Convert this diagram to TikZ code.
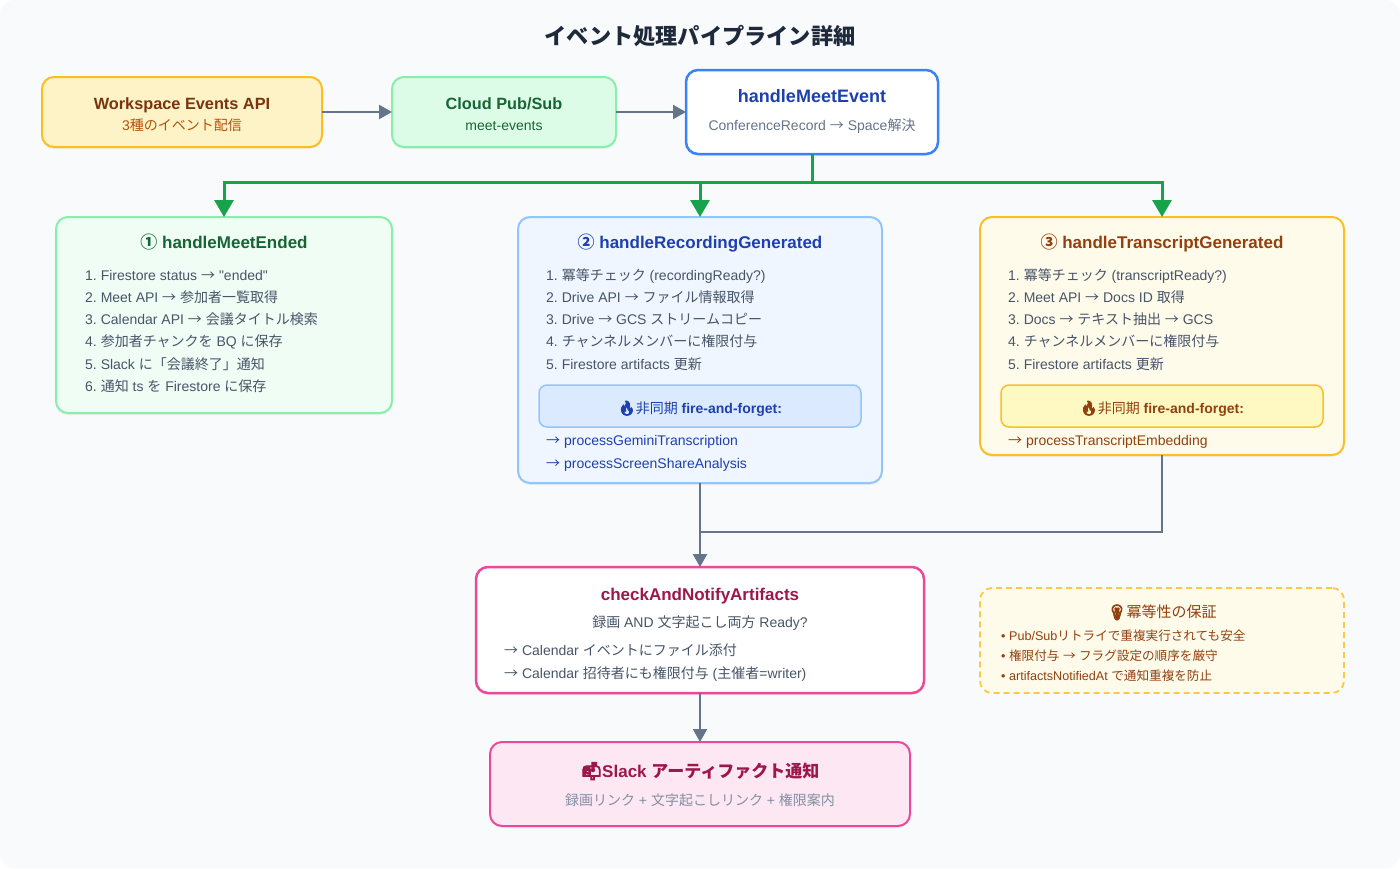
\documentclass[tikz,border=0pt]{standalone}
\usepackage{xcolor}
\usepackage{fontspec}
\usetikzlibrary{arrows.meta,shadows}

\setmainfont{Liberation Sans}[Ligatures=TeXOff]
\newfontfamily\jpfont{Noto Sans CJK JP}
\newfontfamily\emojifont{Noto Emoji}[FakeBold=7]
\frenchspacing

% Japanese runs switch to the CJK family by themselves
\newXeTeXintercharclass\jpclass
\newcount\jpchar
\newcommand{\markjp}[2]{%
	\jpchar=#1
	\loop
		\XeTeXcharclass\jpchar=\jpclass
		\ifnum\jpchar<#2 \advance\jpchar by 1
	\repeat}
\markjp{"2192}{"2192}
\markjp{"2460}{"2473}
\markjp{"3000}{"30FF}
\markjp{"4E00}{"9FFF}
\markjp{"FF00}{"FFEF}
\XeTeXinterchartoks 0 \jpclass = {\jpfont}
\XeTeXinterchartoks 4095 \jpclass = {\jpfont}
\XeTeXinterchartoks \jpclass 0 = {\rmfamily}
\XeTeXinterchartoks \jpclass 4095 = {\rmfamily}
\XeTeXinterchartokenstate=1

\definecolor{pagebg}{HTML}{F8FAFC}
\definecolor{arrowgray}{HTML}{64748B}
\definecolor{busgreen}{HTML}{16A34A}
\definecolor{bodytext}{HTML}{475569}
\definecolor{titletext}{HTML}{1E293B}
\definecolor{amberline}{HTML}{FBBF24}
\definecolor{greenline}{HTML}{86EFAC}
\definecolor{blueline}{HTML}{93C5FD}
\definecolor{strongblue}{HTML}{3B82F6}
\definecolor{pinkline}{HTML}{EC4899}
\definecolor{greentext}{HTML}{166534}
\definecolor{bluetext}{HTML}{1E40AF}
\definecolor{browntext}{HTML}{92400E}
\definecolor{darkbrown}{HTML}{78350F}
\definecolor{orangetext}{HTML}{B45309}
\definecolor{pinktext}{HTML}{9D174D}
\definecolor{amberfill}{HTML}{FEF3C7}
\definecolor{creamfill}{HTML}{FFFBEB}
\definecolor{lemonfill}{HTML}{FEF9C3}
\definecolor{greenfill}{HTML}{DCFCE7}
\definecolor{mintfill}{HTML}{F0FDF4}
\definecolor{bluefill}{HTML}{DBEAFE}
\definecolor{paleblue}{HTML}{EFF6FF}
\definecolor{pinkfill}{HTML}{FCE7F3}

\tikzset{
	card/.style={draw, rounded corners=12pt, line width=2pt, outer sep=0pt, inner sep=0pt,
		drop shadow={opacity=.10, shadow xshift=0pt, shadow yshift=-2pt}},
	subcard/.style={draw, rounded corners=8pt, line width=1.5pt, outer sep=0pt, inner sep=0pt,
		minimum width=322pt, minimum height=42pt},
	title16/.style={anchor=base, inner sep=0pt, font=\fontsize{16.3}{19}\bfseries\selectfont},
	title17/.style={anchor=base, inner sep=0pt, font=\fontsize{17}{20}\bfseries\selectfont},
	boldmid/.style={anchor=base, inner sep=0pt, font=\fontsize{14}{17}\bfseries\selectfont},
	line14/.style={anchor=base west, inner sep=0pt, text=bodytext, font=\fontsize{14}{17}\selectfont},
	mid14/.style={anchor=base, inner sep=0pt, text=bodytext, font=\fontsize{14}{17}\selectfont},
	line12/.style={anchor=base west, inner sep=0pt, text=browntext, font=\fontsize{12.6}{15}\selectfont},
	grayflow/.style={-{Triangle[length=13pt,width=14pt]}, arrowgray, line width=2.2pt},
	greenflow/.style={-{Triangle[length=17pt,width=19pt]}, busgreen, line width=3pt},
}

\begin{document}
\begin{tikzpicture}[x=1pt,y=-1pt]

	\useasboundingbox (0,0) rectangle (1400,868);
	\fill [pagebg, rounded corners=14pt] (0,0) rectangle (1400,868);

	\node (title) [anchor=base, inner sep=0pt, text=titletext, font=\fontsize{22.2}{26}\bfseries\selectfont] at (700,44) {イベント処理パイプライン詳細};

	% top row
	\node (api) [card, fill=amberfill, draw=amberline, minimum width=280pt, minimum height=70pt] at (182,112) {};
	\node (apiname) [title16, text=darkbrown] at (182,109.5) {Workspace Events API};
	\node (apisub) [mid14, text=orangetext] at (182,130) {3種のイベント配信};

	\node (pubsub) [card, fill=greenfill, draw=greenline, minimum width=224pt, minimum height=70pt] at (504,112) {};
	\node (pubsubname) [title16, text=greentext] at (504,109.5) {Cloud Pub/Sub};
	\node (pubsubsub) [mid14, text=greentext] at (504,130) {meet-events};

	\node (evt) [card, fill=white, draw=strongblue, line width=2.5pt, minimum width=252pt, minimum height=84pt] at (812,112) {};
	\node (evtname) [anchor=base, inner sep=0pt, font=\fontsize{18}{21}\bfseries\selectfont, text=bluetext] at (812,102) {handleMeetEvent};
	\node (evtsub) [mid14, text=arrowgray] at (812,130) {ConferenceRecord → Space解決};

	\draw [grayflow] (api) -- (pubsub);
	\draw [grayflow] (pubsub.east) -- (pubsub.east -| evt.west);

	% three handlers
	\node (ended) [card, fill=mintfill, draw=greenline, minimum width=336pt, minimum height=196pt] at (224,315) {};
	\node (endedname) [title17, text=greentext] at (224,248) {① handleMeetEnded};
	\foreach \t [count=\i] in {1. Firestore status → "ended", 2. Meet API → 参加者一覧取得, 3. Calendar API → 会議タイトル検索, 4. 参加者チャンクを BQ に保存, 5. Slack に「会議終了」通知, 6. 通知 ts を Firestore に保存} {
		\node (ended\i) [line14] at (85,280+22.3*\i-22.3) {\t};
	}

	\node (rec) [card, fill=paleblue, draw=blueline, minimum width=364pt, minimum height=266pt] at (700,350) {};
	\node (recname) [title17, text=bluetext] at (700,248) {② handleRecordingGenerated};
	\foreach \t [count=\i] in {1. 冪等チェック (recordingReady?), 2. Drive API → ファイル情報取得, 3. Drive → GCS ストリームコピー, 4. チャンネルメンバーに権限付与, 5. Firestore artifacts 更新} {
		\node (rec\i) [line14] at (546,280+22.3*\i-22.3) {\t};
	}
	\node (recbox) [subcard, fill=bluefill, draw=blueline] at (700,406) {};
	\node (recboxtext) [boldmid, text=bluetext] at (700,413) {{\emojifont 🔥}{\mdseries 非同期} fire-and-forget:};
	\node (recjob1) [line14, text=bluetext] at (546,445.5) {→ processGeminiTranscription};
	\node (recjob2) [line14, text=bluetext] at (546,468) {→ processScreenShareAnalysis};

	\node (trans) [card, fill=creamfill, draw=amberline, minimum width=364pt, minimum height=238pt] at (1162,336) {};
	\node (transname) [title17, text=browntext] at (1162,248) {③ handleTranscriptGenerated};
	\foreach \t [count=\i] in {1. 冪等チェック (transcriptReady?), 2. Meet API → Docs ID 取得, 3. Docs → テキスト抽出 → GCS, 4. チャンネルメンバーに権限付与, 5. Firestore artifacts 更新} {
		\node (trans\i) [line14] at (1008,280+22.3*\i-22.3) {\t};
	}
	\node (transbox) [subcard, fill=lemonfill, draw=amberline] at (1162,406) {};
	\node (transboxtext) [boldmid, text=browntext] at (1162,413) {{\emojifont 🔥}{\mdseries 非同期} fire-and-forget:};
	\node (transjob) [line14, text=browntext] at (1008,445.5) {→ processTranscriptEmbedding};

	% green bus from the top row
	\coordinate (bus) at (812,182);
	\draw [busgreen, line width=3pt] (evt.south) -- (bus);
	\draw [greenflow] (bus) -| (ended.north);
	\draw [greenflow] (bus) -| (rec.north);
	\draw [greenflow] (bus) -| (trans.north);

	% bottom
	\node (check) [card, fill=white, draw=pinkline, line width=2.5pt, minimum width=448pt, minimum height=126pt] at (700,630) {};
	\node (checkname) [title17, text=pinktext] at (700,600) {checkAndNotifyArtifacts};
	\node (checksub) [mid14] at (700,627) {録画 AND 文字起こし両方 Ready?};
	\node (check1) [line14] at (504,655) {→ Calendar イベントにファイル添付};
	\node (check2) [line14] at (504,678) {→ Calendar 招待者にも権限付与 (主催者=writer)};

	\node (slack) [card, fill=pinkfill, draw=pinkline, minimum width=420pt, minimum height=84pt] at (700,784) {};
	\node (slackname) [title17, text=pinktext] at (700,777) {{\emojifont 📬}Slack アーティファクト通知};
	\node (slacksub) [mid14, text=arrowgray!80!white] at (700,805) {録画リンク + 文字起こしリンク + 権限案内};

	\node (safe) [draw=amberline!85!white, dash pattern=on 6pt off 4pt, rounded corners=12pt, line width=1.8pt, fill=creamfill, minimum width=364pt, minimum height=105pt, inner sep=0pt] at (1162,640.5) {};
	\node (safename) [mid14, text=browntext, font=\fontsize{15}{18}\selectfont] at (1162,617.5) {{\emojifont 💡}冪等性の保証};
	\node (safe1) [line12] at (1001,640.5) {• Pub/Subリトライで重複実行されても安全};
	\node (safe2) [line12] at (1001,660.5) {• 権限付与 → フラグ設定の順序を厳守};
	\node (safe3) [line12] at (1001,680.5) {• artifactsNotifiedAt で通知重複を防止};

	\coordinate (join) at (700,532);
	\draw [grayflow] (rec.south) -- (check.north);
	\draw [arrowgray, line width=2.2pt] (trans.south) |- (join);
	\draw [grayflow] (check.south) -- (slack.north);

\end{tikzpicture}
\end{document}
